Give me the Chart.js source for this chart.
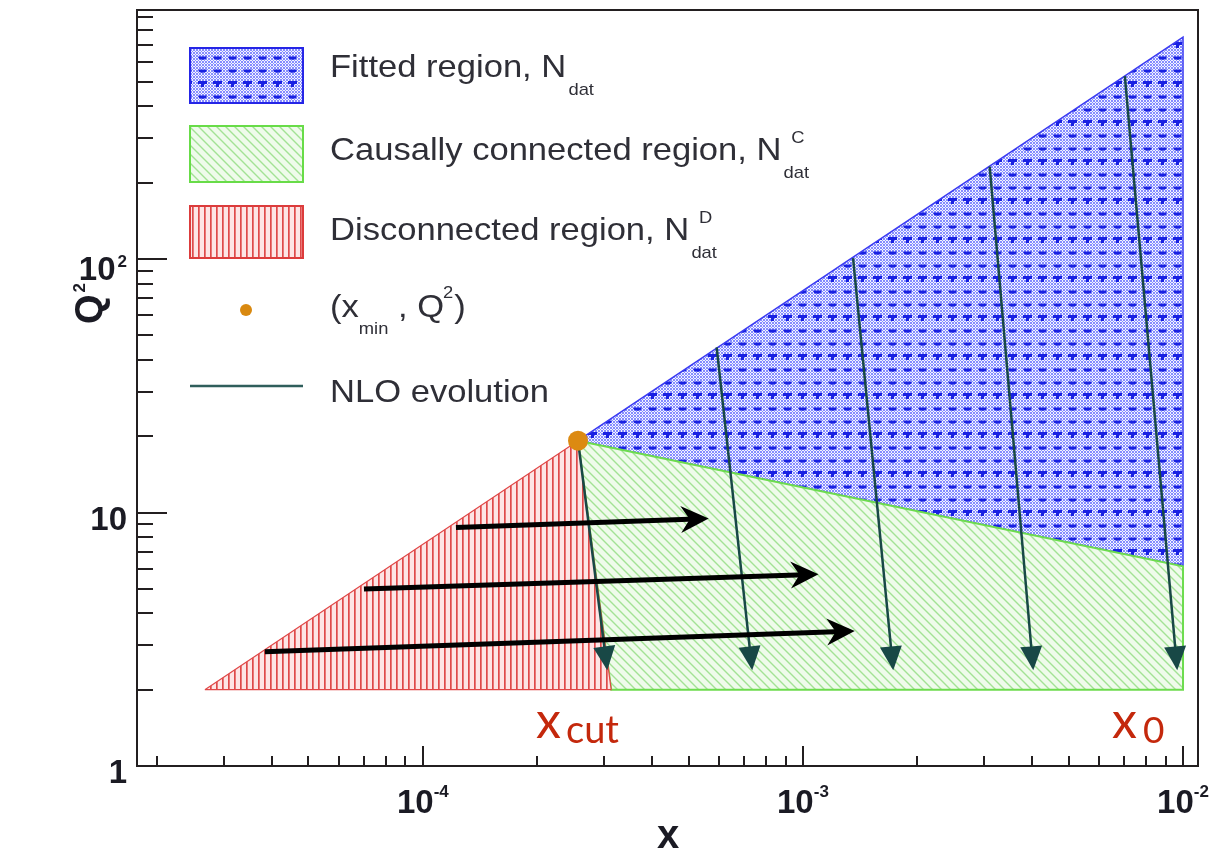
<!DOCTYPE html>
<html>
<head>
<meta charset="utf-8">
<title>x - Q2 kinematic regions</title>
<script src="https://cdn.jsdelivr.net/npm/chart.js@4.4.1/dist/chart.umd.min.js"></script>
<style>
  html, body { margin: 0; padding: 0; background: #fff; }
  #wrap { position: relative; width: 1213px; height: 854px; }
</style>
</head>
<body>
<div id="wrap"><canvas id="chart"></canvas></div>
<script>
// ---------- axis ranges and tick labels (both axes logarithmic) ----------
const xRange = [1.77e-5, 1.095e-2];
const q2Range = [1, 960];
const xMajorTicks = [1e-4, 1e-3, 1e-2];
const xTickExponents = ["-4", "-3", "-2"];
const q2MajorTicks = [1, 10, 100];
const q2TickBases = ["1", "10", "10"];
const q2TickExponents = ["", "", "2"];

// ---------- kinematic regions, polygon corners (x, Q^2) ----------
const fittedX = [2.56e-4, 1e-2, 1e-2, 2.56e-4];
const fittedQ2 = [19.2, 750, 6.14, 19.2];
const causalX = [2.56e-4, 1e-2, 1e-2, 3.13e-4, 2.56e-4];
const causalQ2 = [19.2, 6.14, 2, 2, 19.2];
const disconnectedX = [2.67e-5, 2.56e-4, 3.13e-4, 2.67e-5];
const disconnectedQ2 = [2, 19.2, 2, 2];

// ---------- (x_min, Q^2) point ----------
const xMin = 2.56e-4;
const q2AtXMin = 19.2;

// ---------- NLO evolution paths, start -> end ----------
const nloStartX = [2.56e-4, 5.93e-4, 1.355e-3, 3.10e-3, 7.03e-3];
const nloStartQ2 = [19.2, 44.8, 100.9, 231.6, 527];
const nloEndX = [3.05e-4, 7.34e-4, 1.725e-3, 4.03e-3, 9.64e-3];
const nloEndQ2 = [2.45, 2.45, 2.45, 2.45, 2.45];

// ---------- black shift arrows, start -> end ----------
const shiftStartX = [1.222e-4, 7.0e-5, 3.84e-5];
const shiftStartQ2 = [8.73, 4.99, 2.82];
const shiftEndX = [5.45e-4, 1.06e-3, 1.32e-3];
const shiftEndQ2 = [9.45, 5.7, 3.4];

const pts = (xs, ys) => xs.map((x, i) => ({ x, y: ys[i] }));

const canvas = document.getElementById("chart");
const ctx = canvas.getContext("2d");

// ROOT-like fill styles as repeating tiles
function tilePattern(w, h, paint) {
  const c = document.createElement("canvas");
  c.width = w; c.height = h;
  paint(c.getContext("2d"), w, h);
  return ctx.createPattern(c, "repeat");
}

const bluePattern = tilePattern(15, 39, (g, w, h) => {
  g.fillStyle = "#f2f3ff"; g.fillRect(0, 0, w, h);
  g.fillStyle = "#858cff";
  for (let i = 0; i < w; i++) for (let j = 0; j < h; j++) {
    if ((i + j) % 3 === 0 || (i - j + 60) % 3 === 0) g.fillRect(i, j, 1, 1);
  }
  g.fillStyle = "#1820e2";
  // T mark
  g.fillRect(3, 3, 9, 3); g.fillRect(6, 6, 3, 3);
  // two cup marks
  [19, 32].forEach((cy) => {
    g.beginPath(); g.ellipse(7.5, cy - 1.5, 4.3, 3.3, 0, 0, Math.PI); g.fill();
  });
});

const greenPattern = tilePattern(9, 9, (g, w, h) => {
  g.fillStyle = "#effbeb"; g.fillRect(0, 0, w, h);
  g.strokeStyle = "#a3e295"; g.lineWidth = 1.4;
  g.beginPath();
  g.moveTo(-2, -2); g.lineTo(w + 2, h + 2);
  g.moveTo(-2, h - 2); g.lineTo(2, h + 2);
  g.moveTo(w - 2, -2); g.lineTo(w + 2, 2);
  g.stroke();
});

const redPattern = tilePattern(6, 4, (g, w, h) => {
  g.fillStyle = "#fde5e5"; g.fillRect(0, 0, w, h);
  g.fillStyle = "#de4a4a"; g.fillRect(0, 0, 1.7, h);
});

const TEXT_FONT = '"Liberation Sans", Arial, Helvetica, sans-serif';
const NOTE_FONT = 'Lato, "Open Sans", sans-serif';

// one legend row: main text with optional stacked super/subscript after it
function legendRow(g, x, base, main, sup, sub) {
  g.save();
  g.translate(x, base); g.scale(1.08, 1);
  g.font = `32px ${TEXT_FONT}`;
  g.fillText(main, 0, 0);
  const w = g.measureText(main).width;
  g.font = `17px ${TEXT_FONT}`;
  if (sup) g.fillText(sup, w + 9, -17);
  if (sub) g.fillText(sub, w + 2, 18);
  g.restore();
}

const legendPlugin = {
  id: "regionLegend",
  afterDraw(chart) {
    const g = chart.ctx;
    g.save();
    const boxes = [
      [48, 55, bluePattern, "#2525e6"],
      [126, 56, greenPattern, "#68dc48"],
      [206, 52, redPattern, "#dc3c3c"],
    ];
    boxes.forEach(([top, hgt, fill, edge]) => {
      g.fillStyle = fill; g.fillRect(190, top, 113, hgt);
      g.strokeStyle = edge; g.lineWidth = 2; g.strokeRect(190, top, 113, hgt);
    });
    g.fillStyle = "#d98910";
    g.beginPath(); g.arc(246, 310, 6, 0, Math.PI * 2); g.fill();
    g.strokeStyle = "#2f5e5b"; g.lineWidth = 2.5;
    g.beginPath(); g.moveTo(190, 386); g.lineTo(303, 386); g.stroke();

    g.fillStyle = "#2f2f37"; g.textAlign = "left"; g.textBaseline = "alphabetic";
    legendRow(g, 330, 77, "Fitted region, N", "", "dat");
    legendRow(g, 330, 160, "Causally connected region, N", "C", "dat");
    legendRow(g, 330, 240, "Disconnected region, N", "D", "dat");

    // (x_min , Q^2)
    g.save();
    g.translate(330, 317); g.scale(1.08, 1);
    let cx = 0;
    g.font = `32px ${TEXT_FONT}`; g.fillText("(x", cx, 0); cx += g.measureText("(x").width;
    g.font = `17px ${TEXT_FONT}`; g.fillText("min", cx, 17); cx += g.measureText("min").width;
    g.font = `32px ${TEXT_FONT}`; g.fillText(" , Q", cx, 0); cx += g.measureText(" , Q").width;
    g.font = `17px ${TEXT_FONT}`; g.fillText("2", cx - 1, -19); cx += g.measureText("2").width;
    g.font = `32px ${TEXT_FONT}`; g.fillText(")", cx, 0);
    g.restore();

    legendRow(g, 330, 402, "NLO evolution", "", "");
    g.restore();
  },
};

const axesPlugin = {
  id: "rootAxes",
  afterDraw(chart) {
    const { ctx: g, chartArea: a, scales: { x, y } } = chart;
    g.save();
    g.strokeStyle = "#231f20"; g.lineWidth = 2;
    g.strokeRect(a.left, a.top, a.right - a.left, a.bottom - a.top);

    // inward ticks, long at decades
    g.beginPath();
    for (let d = -5; d <= -2; d++) {
      for (let m = 1; m <= 9; m++) {
        const v = m * Math.pow(10, d);
        if (v < xRange[0] || v > xRange[1]) continue;
        const px = Math.round(x.getPixelForValue(v));
        g.moveTo(px, a.bottom); g.lineTo(px, a.bottom - (m === 1 ? 20 : 10));
      }
    }
    for (let d = 0; d <= 2; d++) {
      for (let m = 1; m <= 9; m++) {
        const v = m * Math.pow(10, d);
        if (v > q2Range[1]) continue;
        const py = Math.round(y.getPixelForValue(v));
        g.moveTo(a.left, py); g.lineTo(a.left + (m === 1 ? 30 : 16), py);
      }
    }
    g.stroke();

    g.fillStyle = "#1b1b24";
    // x tick labels
    xMajorTicks.forEach((v, i) => {
      const px = x.getPixelForValue(v);
      g.font = `bold 33px ${TEXT_FONT}`;
      const bw = g.measureText("10").width;
      g.font = `bold 17px ${TEXT_FONT}`;
      const ew = g.measureText(xTickExponents[i]).width;
      const left = px - (bw + ew) / 2;
      g.textAlign = "left";
      g.font = `bold 33px ${TEXT_FONT}`; g.fillText("10", left, 813);
      g.font = `bold 17px ${TEXT_FONT}`; g.fillText(xTickExponents[i], left + bw, 797);
    });
    // Q^2 tick labels, right aligned
    q2MajorTicks.forEach((v, i) => {
      const py = y.getPixelForValue(v);
      g.textAlign = "right";
      if (q2TickExponents[i]) {
        g.font = `bold 17px ${TEXT_FONT}`;
        const ew = g.measureText(q2TickExponents[i]).width;
        g.fillText(q2TickExponents[i], 127, py + 8);
        g.font = `bold 33px ${TEXT_FONT}`;
        g.fillText(q2TickBases[i], 125 - ew, py + 21);
      } else {
        g.font = `bold 33px ${TEXT_FONT}`;
        g.fillText(q2TickBases[i], 127, py + 17);
      }
    });

    // axis titles
    g.textAlign = "center";
    g.font = `bold 40px ${TEXT_FONT}`;
    g.fillText("x", 668, 848);
    g.save();
    g.translate(102, 324); g.rotate(-Math.PI / 2);
    g.textAlign = "left";
    g.font = `bold 38px ${TEXT_FONT}`; g.fillText("Q", 0, 0);
    const qw = g.measureText("Q").width;
    g.font = `bold 17px ${TEXT_FONT}`; g.fillText("2", qw + 2, -17);
    g.restore();

    // x_cut and x_0 markers
    g.fillStyle = "#c4280c"; g.textAlign = "left";
    g.font = `50px ${NOTE_FONT}`; g.fillText("x", 536, 738);
    g.font = `38px ${NOTE_FONT}`; g.fillText("cut", 566, 743);
    g.font = `50px ${NOTE_FONT}`; g.fillText("x", 1112, 738);
    g.font = `37px ${NOTE_FONT}`; g.fillText("0", 1143, 743);
    g.restore();
  },
};

const arrowPlugin = {
  id: "arrowHeads",
  afterDatasetsDraw(chart) {
    const g = chart.ctx;
    chart.data.datasets.forEach((ds, i) => {
      if (!ds.arrowHead) return;
      const p = chart.getDatasetMeta(i).data;
      const a = p[p.length - 2], b = p[p.length - 1];
      const ang = Math.atan2(b.y - a.y, b.x - a.x);
      const { length: L, width: W, notch, extend } = ds.arrowHead;
      g.save();
      g.translate(b.x, b.y); g.rotate(ang); g.translate(extend, 0);
      g.beginPath();
      g.moveTo(0, 0); g.lineTo(-L, W / 2); g.lineTo(-L * (1 - notch), 0); g.lineTo(-L, -W / 2);
      g.closePath();
      g.fillStyle = ds.borderColor; g.fill();
      g.restore();
    });
  },
};

const regionBase = { pointRadius: 0, tension: 0, fill: "shape" };

const datasets = [
  { ...regionBase, label: "Fitted region", data: pts(fittedX, fittedQ2),
    backgroundColor: bluePattern, borderColor: "#3a3af2", borderWidth: 1.5, order: 5 },
  { ...regionBase, label: "Causally connected region", data: pts(causalX, causalQ2),
    backgroundColor: greenPattern, borderColor: "#6ddc4e", borderWidth: 2, order: 4 },
  { ...regionBase, label: "Disconnected region", data: pts(disconnectedX, disconnectedQ2),
    backgroundColor: redPattern, borderColor: "#e04848", borderWidth: 1.2, order: 3 },
];

nloStartX.forEach((x0, i) => {
  datasets.push({
    label: "NLO evolution", data: [{ x: x0, y: nloStartQ2[i] }, { x: nloEndX[i], y: nloEndQ2[i] }],
    borderColor: "#184846", borderWidth: 2.5, pointRadius: 0, fill: false, order: 2,
    arrowHead: { length: 24, width: 22, notch: 0, extend: 3 },
  });
});

shiftStartX.forEach((x0, i) => {
  datasets.push({
    label: "shift", data: [{ x: x0, y: shiftStartQ2[i] }, { x: shiftEndX[i], y: shiftEndQ2[i] }],
    borderColor: "#000000", borderWidth: 5, pointRadius: 0, fill: false, order: 1,
    arrowHead: { length: 28, width: 27, notch: 0.32, extend: 6 },
  });
});

datasets.push({
  label: "(x_min, Q^2)", data: [{ x: xMin, y: q2AtXMin }], showLine: false,
  pointRadius: 10, pointBackgroundColor: "#dc8a12", pointBorderWidth: 0, order: 0,
});

new Chart(canvas, {
  type: "line",
  data: { datasets },
  options: {
    responsive: true, maintainAspectRatio: false, animation: false, events: [],
    layout: { padding: { left: 137, right: 15, top: 9, bottom: 88 } },
    plugins: { legend: { display: false }, tooltip: { enabled: false } },
    scales: {
      x: { type: "logarithmic", min: xRange[0], max: xRange[1], display: false },
      y: { type: "logarithmic", min: q2Range[0], max: q2Range[1], display: false },
    },
  },
  plugins: [arrowPlugin, axesPlugin, legendPlugin],
});
</script>
</body>
</html>
